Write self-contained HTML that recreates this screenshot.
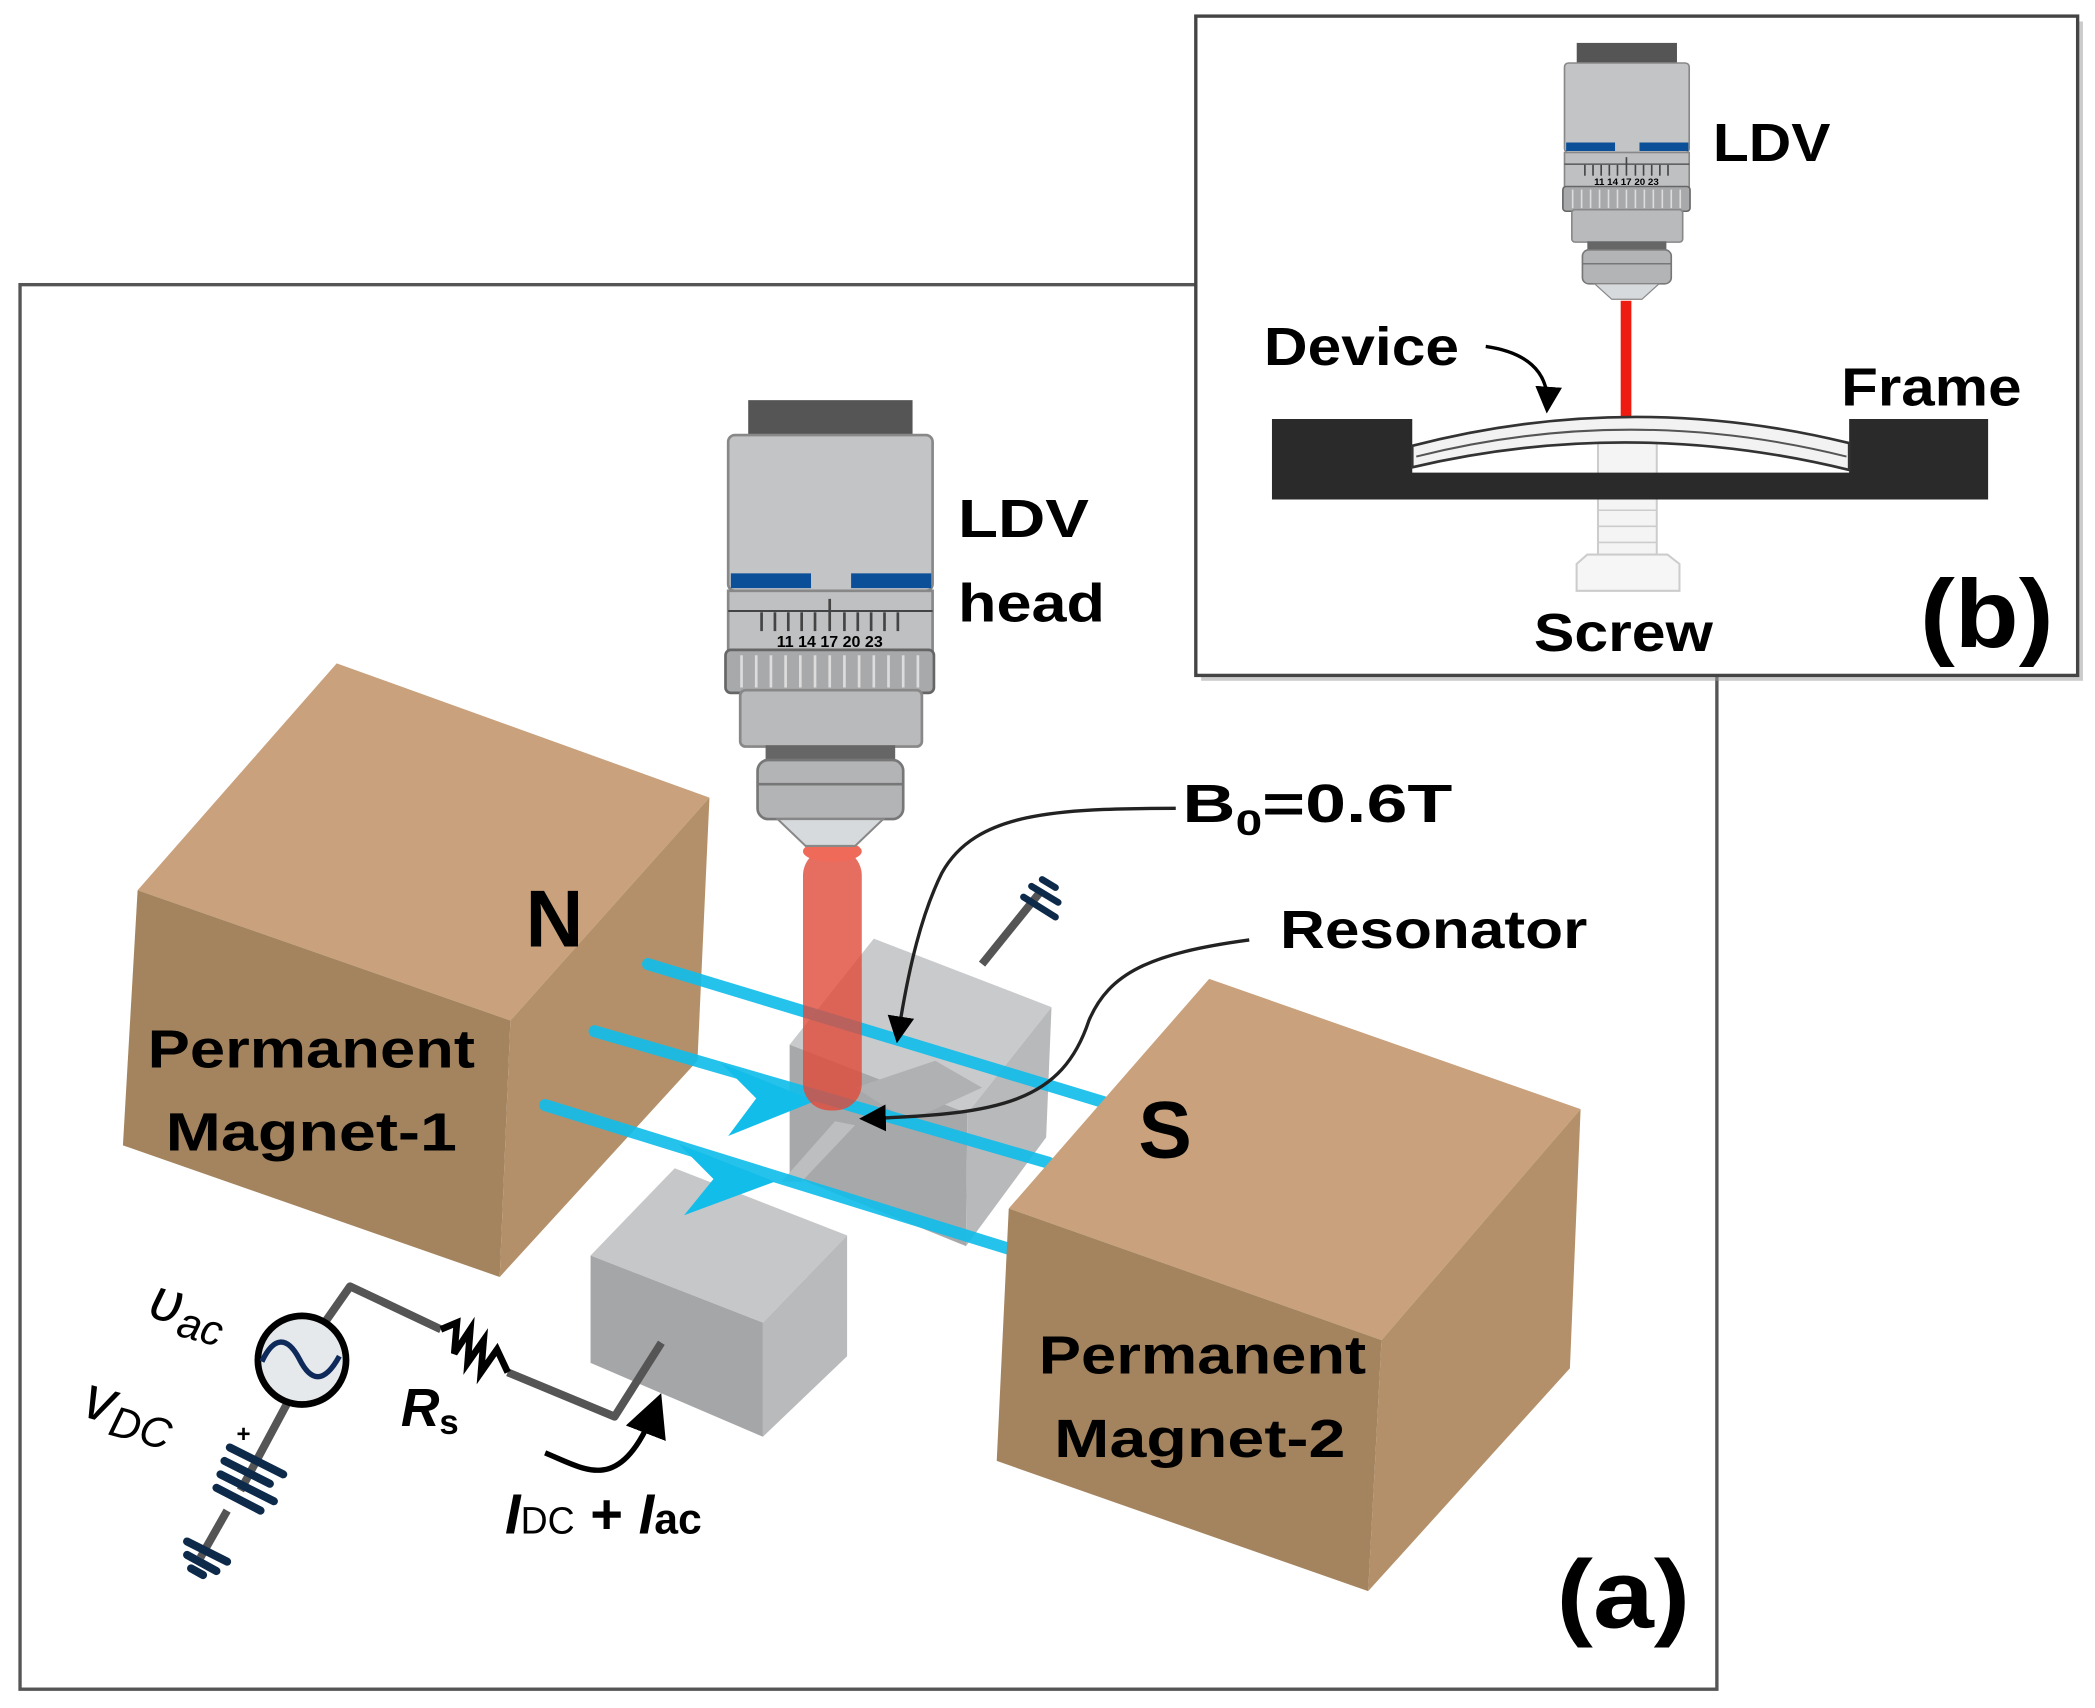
<!DOCTYPE html>
<html><head><meta charset="utf-8"><style>
html,body{margin:0;padding:0;background:#fff;}
svg{display:block;}
text{font-family:"Liberation Sans",sans-serif;font-weight:bold;fill:#000;}
</style></head><body>
<svg width="2095" height="1708" viewBox="0 0 1568 1272" preserveAspectRatio="none" xmlns="http://www.w3.org/2000/svg">
<defs>
<marker id="ah" markerWidth="8" markerHeight="8" refX="6" refY="4" orient="auto" markerUnits="strokeWidth">
<path d="M0,0 L8,4 L0,8 z" fill="#000"/></marker>
<g id="ldv">
<rect x="560" y="298" width="123" height="28" fill="#555"/>
<rect x="545" y="324" width="153" height="116" rx="5" fill="#c3c4c6" stroke="#888" stroke-width="2"/>
<rect x="547" y="427" width="60" height="11" fill="#0b4f98"/>
<rect x="637" y="427" width="60" height="11" fill="#0b4f98"/>
<rect x="545" y="440" width="153" height="46" fill="#bfc0c2" stroke="#888" stroke-width="2"/>
<line x1="545" y1="455" x2="698" y2="455" stroke="#444" stroke-width="1.5"/>
<g stroke="#444" stroke-width="2">
<line x1="570" y1="456" x2="570" y2="470"/><line x1="580" y1="456" x2="580" y2="470"/><line x1="590" y1="456" x2="590" y2="470"/><line x1="600" y1="456" x2="600" y2="470"/><line x1="610" y1="456" x2="610" y2="470"/><line x1="621" y1="446" x2="621" y2="470"/><line x1="632" y1="456" x2="632" y2="470"/><line x1="642" y1="456" x2="642" y2="470"/><line x1="652" y1="456" x2="652" y2="470"/><line x1="662" y1="456" x2="662" y2="470"/><line x1="672" y1="456" x2="672" y2="470"/></g>
<text x="621" y="482" font-size="12" text-anchor="middle" fill="#333">11 14 17 20 23</text>
<rect x="543" y="484" width="156" height="32" rx="4" fill="#a8a9ab" stroke="#666" stroke-width="2"/>
<g stroke="#ddd" stroke-width="2">
<line x1="555" y1="488" x2="555" y2="512"/><line x1="566" y1="488" x2="566" y2="512"/><line x1="577" y1="488" x2="577" y2="512"/><line x1="588" y1="488" x2="588" y2="512"/><line x1="599" y1="488" x2="599" y2="512"/><line x1="610" y1="488" x2="610" y2="512"/><line x1="621" y1="488" x2="621" y2="512"/><line x1="632" y1="488" x2="632" y2="512"/><line x1="643" y1="488" x2="643" y2="512"/><line x1="654" y1="488" x2="654" y2="512"/><line x1="665" y1="488" x2="665" y2="512"/><line x1="676" y1="488" x2="676" y2="512"/><line x1="687" y1="488" x2="687" y2="512"/></g>
<rect x="554" y="514" width="136" height="42" rx="4" fill="#b9babc" stroke="#888" stroke-width="2"/>
<rect x="573" y="555" width="97" height="12" fill="#666"/>
<rect x="567" y="566" width="109" height="44" rx="8" fill="#b3b4b6" stroke="#777" stroke-width="2"/>
<line x1="567" y1="584" x2="676" y2="584" stroke="#777" stroke-width="2"/>
<path d="M582,610 L661,610 L640,630 L603,630 Z" fill="#d7dadd" stroke="#888" stroke-width="1.5"/>
</g>
</defs>

<rect x="15" y="212" width="1270" height="1046" fill="#fff" stroke="#555" stroke-width="2.5"/>

<polygon points="103,663 252,494 531,594 382,760" fill="#c9a17c"/>
<polygon points="103,663 382,760 374,951 92,853" fill="#a4845f"/>
<polygon points="382,760 531,594 522,790 374,951" fill="#b39069"/>
<text x="415" y="705" font-size="60" text-anchor="middle">N</text>
<text x="233" y="795" font-size="40" text-anchor="middle" textLength="245" lengthAdjust="spacingAndGlyphs">Permanent</text>
<text x="233" y="857" font-size="40" text-anchor="middle" textLength="218" lengthAdjust="spacingAndGlyphs">Magnet-1</text>

<line x1="735" y1="718" x2="778" y2="665" stroke="#555" stroke-width="6"/>
<g stroke="#0d2a4a" stroke-width="5" stroke-linecap="round">
<line x1="766" y1="668" x2="790" y2="683"/><line x1="772" y1="660" x2="792" y2="672"/><line x1="780" y1="655" x2="790" y2="661"/></g>

<polygon points="591,778 654,699 787,750 724,829" fill="#c9cacc"/>
<polygon points="591,778 724,829 723,928 591,875" fill="#a7a8aa"/>
<polygon points="724,829 787,750 783,847 723,928" fill="#b8b9bb"/>
<polygon points="640,810 700,790 735,810 680,835" fill="#b0b1b3"/>
<polygon points="585,880 600,880 640,838 625,835" fill="#bdbec0"/>
<polygon points="442,935 505,870 634,920 571,985" fill="#c6c7c9"/>
<polygon points="442,935 571,985 571,1070 442,1015" fill="#a5a6a8"/>
<polygon points="571,985 634,920 634,1010 571,1070" fill="#b9babc"/>

<g stroke="#13bdea" stroke-width="9" stroke-linecap="round" opacity="0.92">
<line x1="485" y1="718" x2="830" y2="822"/>
<line x1="445" y1="768" x2="785" y2="866"/>
<line x1="408" y1="823" x2="755" y2="930"/>
</g>
<polygon points="540,792 610,820 545,846 566,818" fill="#13bdea"/>
<polygon points="508,852 580,880 512,905 534,878" fill="#13bdea"/>

<rect x="601" y="632" width="44" height="195" rx="20" fill="#e04a3a" opacity="0.8"/>
<ellipse cx="623" cy="634" rx="22" ry="8" fill="#f06a5a"/>

<use href="#ldv"/>
<text x="717" y="400" font-size="40" textLength="98" lengthAdjust="spacingAndGlyphs">LDV</text>
<text x="717" y="463" font-size="40" textLength="110" lengthAdjust="spacingAndGlyphs">head</text>

<polygon points="755,900 905,729 1183,826 1034,998" fill="#c9a17c"/>
<polygon points="755,900 1034,998 1024,1185 746,1088" fill="#a4845f"/>
<polygon points="1034,998 1183,826 1175,1019 1024,1185" fill="#b39069"/>
<text x="872" y="862" font-size="60" text-anchor="middle">S</text>
<text x="900" y="1023" font-size="40" text-anchor="middle" textLength="245" lengthAdjust="spacingAndGlyphs">Permanent</text>
<text x="898" y="1085" font-size="40" text-anchor="middle" textLength="218" lengthAdjust="spacingAndGlyphs">Magnet-2</text>

<path d="M880,602 C790,602 730,605 705,650 C690,680 680,720 672,772" fill="none" stroke="#222" stroke-width="2.5" marker-end="url(#ah)"/>
<text x="885" y="612" font-size="40" textLength="202" lengthAdjust="spacingAndGlyphs">B<tspan font-size="26" dy="10">0</tspan><tspan dy="-10">=0.6T</tspan></text>
<path d="M935,700 C860,710 830,725 815,760 C795,820 750,830 648,833" fill="none" stroke="#222" stroke-width="2.5" marker-end="url(#ah)"/>
<text x="958" y="706" font-size="40" textLength="230" lengthAdjust="spacingAndGlyphs">Resonator</text>

<g fill="none" stroke="#555" stroke-width="6" stroke-linejoin="round">
<polyline points="243,985 262,958 330,990"/>
<polyline points="380,1022 460,1055 495,1000"/>
<polyline points="215,1045 180,1110"/>
<polyline points="170,1125 150,1160"/>
</g>
<polyline points="330,990 342,985 340,1008 352,990 350,1015 362,998 360,1022 372,1005 380,1022" fill="none" stroke="#000" stroke-width="5" stroke-linejoin="miter"/>
<circle cx="226" cy="1013" r="33" fill="#e6e9ec" stroke="#000" stroke-width="5"/>
<path d="M196,1014 C205,995 215,995 224,1012 C233,1030 243,1030 254,1010" fill="none" stroke="#0d2a5a" stroke-width="4"/>
<g stroke="#0d2a4a" stroke-width="6" stroke-linecap="round">
<line x1="172" y1="1078" x2="212" y2="1098"/><line x1="168" y1="1088" x2="202" y2="1105"/>
<line x1="165" y1="1098" x2="205" y2="1118"/><line x1="162" y1="1108" x2="195" y2="1125"/>
<line x1="140" y1="1148" x2="170" y2="1163"/><line x1="140" y1="1158" x2="162" y2="1170"/><line x1="143" y1="1168" x2="152" y2="1173"/>
</g>
<text x="177" y="1074" font-size="18">+</text>
<text x="112" y="988" font-size="44" font-style="italic" style="font-weight:normal" transform="rotate(15 140 975)">υ<tspan font-size="32" dy="8">ac</tspan></text>
<text x="62" y="1062" font-size="46" font-style="italic" style="font-weight:normal" transform="rotate(15 90 1050)">v<tspan font-size="32" dy="8">DC</tspan></text>
<text x="300" y="1062" font-size="40" font-style="italic">R<tspan font-size="26" dy="6" font-style="normal">s</tspan></text>
<path d="M408,1082 C440,1095 465,1115 492,1045" fill="none" stroke="#000" stroke-width="4" marker-end="url(#ah)"/>
<text x="378" y="1142" font-size="42"><tspan font-style="italic">I</tspan><tspan font-size="28" style="font-weight:normal">DC</tspan> + <tspan font-style="italic">I</tspan><tspan font-size="32">ac</tspan></text>
<text x="1165" y="1212" font-size="72" textLength="100" lengthAdjust="spacingAndGlyphs">(a)</text>

<rect x="899" y="16" width="660" height="491" fill="#999" opacity="0.5"/>
<rect x="895" y="12" width="660" height="491" fill="#fff" stroke="#444" stroke-width="2.5"/>
<g transform="translate(838.5,-139.4) scale(0.61,0.575)"><use href="#ldv"/></g>
<rect x="1213" y="224" width="8" height="88" fill="#ee1c10"/>
<rect x="1196" y="330" width="44" height="85" fill="#f4f4f4" stroke="#ccc" stroke-width="1.5"/>
<g stroke="#ccc" stroke-width="1.2"><line x1="1196" y1="380" x2="1240" y2="380"/><line x1="1196" y1="392" x2="1240" y2="392"/><line x1="1196" y1="404" x2="1240" y2="404"/></g>
<path d="M1180,420 L1188,413 L1248,413 L1257,420 L1257,440 L1180,440 Z" fill="#f6f6f6" stroke="#ccc" stroke-width="1.5"/>
<path d="M952,312 L1057,312 L1057,352 L1384,352 L1384,312 L1488,312 L1488,372 L952,372 Z" fill="#2a2a2a"/>
<path d="M1057,332 Q1220,290 1384,330 L1384,350 Q1220,310 1057,348 Z" fill="#f2f2f2" stroke="#333" stroke-width="2"/>
<path d="M1060,340 Q1220,300 1382,340" fill="none" stroke="#555" stroke-width="1.5"/>
<path d="M1112,258 C1140,262 1160,275 1158,303" fill="none" stroke="#000" stroke-width="2.5" marker-end="url(#ah)"/>
<text x="946" y="272" font-size="40" textLength="146" lengthAdjust="spacingAndGlyphs">Device</text>
<text x="1378" y="302" font-size="40" textLength="135" lengthAdjust="spacingAndGlyphs">Frame</text>
<text x="1282" y="120" font-size="40" textLength="88" lengthAdjust="spacingAndGlyphs">LDV</text>
<text x="1148" y="485" font-size="40" textLength="134" lengthAdjust="spacingAndGlyphs">Screw</text>
<text x="1437" y="482" font-size="72" textLength="100" lengthAdjust="spacingAndGlyphs">(b)</text>
</svg>
</body></html>
